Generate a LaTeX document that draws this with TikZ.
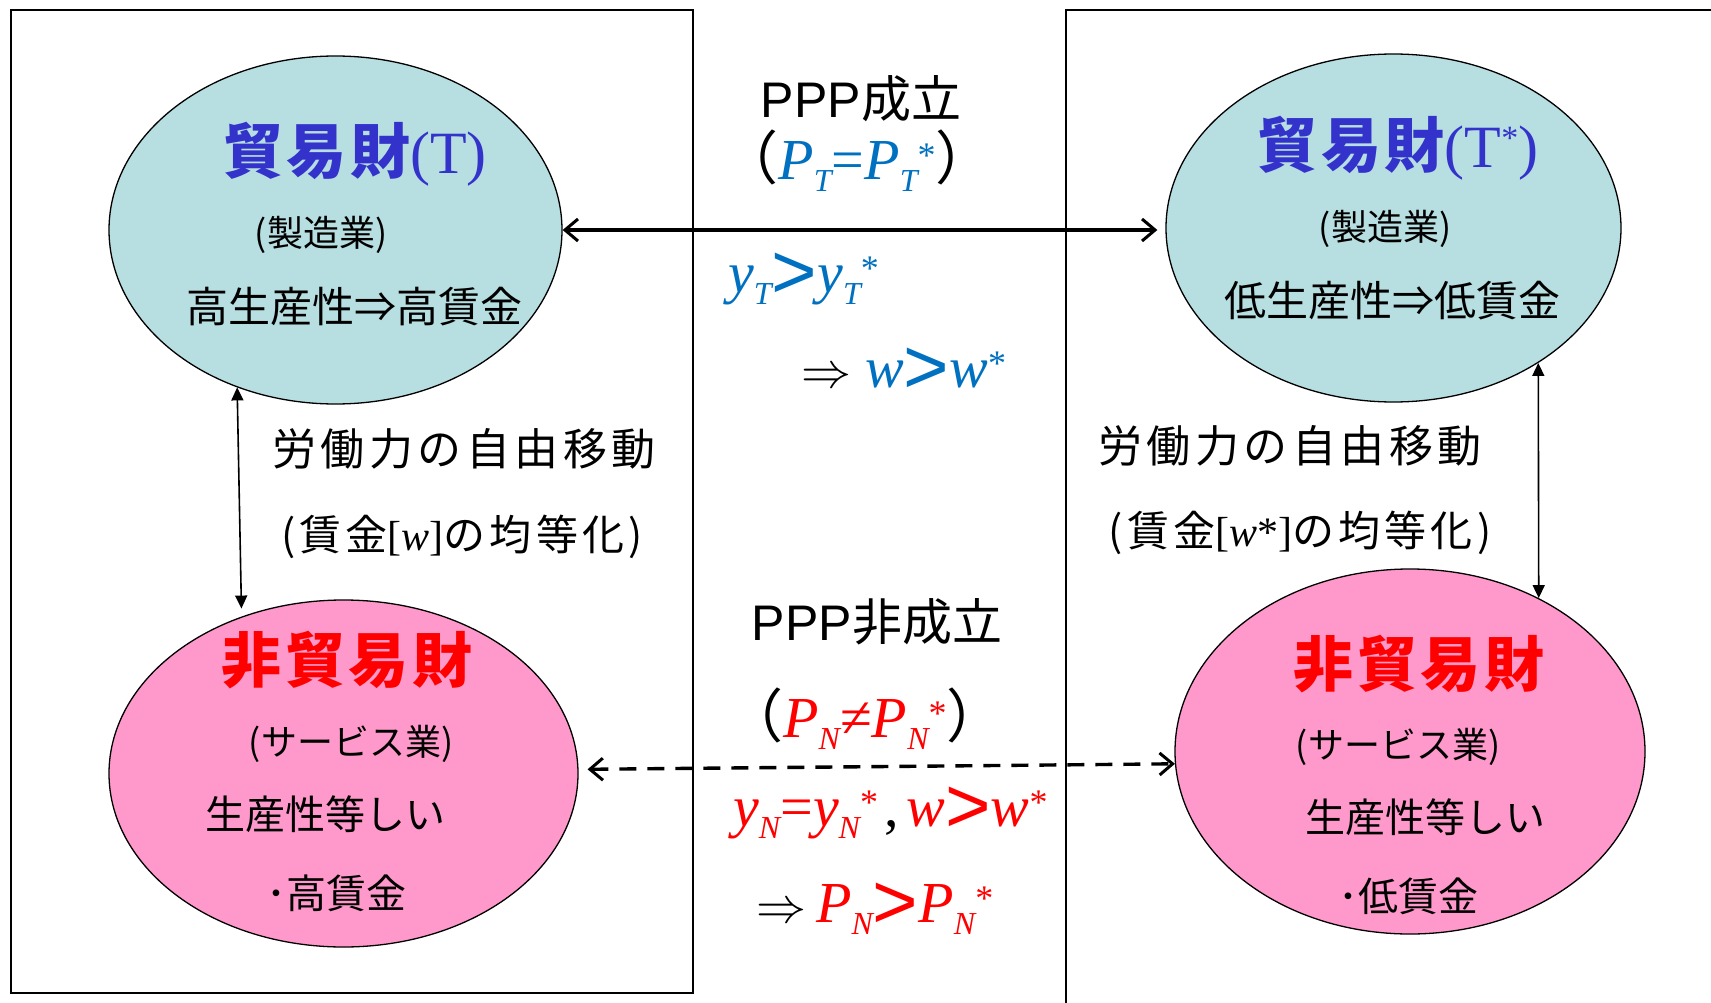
\documentclass[tikz,border=0pt]{standalone}
\usepackage{fontspec}
\setmainfont{Liberation Serif}
\newfontfamily\jp{Noto Sans CJK JP}
\newfontfamily\jpa[LetterSpace=10]{Noto Sans CJK JP}
\newfontfamily\jpt[LetterSpace=6]{Noto Sans CJK JP}
\newfontfamily\ars{Liberation Sans}
\usetikzlibrary{shapes.geometric,arrows.meta}
\definecolor{tblue}{HTML}{3333CC}
\definecolor{mblue}{HTML}{0070C0}
\definecolor{nred}{HTML}{FF0000}
\definecolor{tfill}{HTML}{B7DEE0}
\definecolor{nfill}{HTML}{FF99CC}
\newcommand\fs[1]{\fontsize{#1}{#1}\selectfont}
\newcommand\sbs[1]{\raisebox{-12pt}{\fs{32}\itshape #1}}
\newcommand\sps[1]{\raisebox{12pt}{\fs{36}\upshape #1}}
\newcommand\ggt{\raisebox{-6pt}{\ars\upshape\fs{78}>}}
\newcommand\myimpl{\scalebox{5}{\normalsize$\Rightarrow$}}
\tikzset{
  ell/.style={ellipse, draw, line width=1.3pt, inner sep=0pt},
  frame/.style={line width=2pt},
  harr/.style={line width=3.4pt, {Straight Barb[length=13pt,width=22pt,line width=3pt]}-{Straight Barb[length=13pt,width=22pt,line width=3pt]}},
  varr/.style={line width=1.6pt, {Triangle[length=13pt,width=12pt]}-{Triangle[length=13pt,width=12pt]}},
  txt/.style={inner sep=0pt},
}
\begin{document}
\begin{tikzpicture}[x=1pt,y=-1pt]
\useasboundingbox (0,0) rectangle (1711,1003);
% frames
\draw[frame] (11,10) rectangle (693,993);
\draw[frame] (1066,1003) -- (1066,10) -- (1711,10);
% ellipses
\node[ell, fill=tfill, minimum width=453pt, minimum height=348pt] (tl) at (335.5,230) {};
\node[ell, fill=tfill, minimum width=455pt, minimum height=348pt] (tr) at (1393.5,228) {};
\node[ell, fill=nfill, minimum width=469pt, minimum height=347pt] (bl) at (343.5,773.5) {};
\node[ell, fill=nfill, minimum width=470pt, minimum height=365pt] (br) at (1410,751.5) {};
% connectors
\draw[harr, shorten >=8pt] (tl.east) -- (tl.east -| tr.west);
\draw[harr, dash pattern=on 17pt off 11pt, shorten <=9pt] (bl.1.6) -- (br.183.8);
\draw[varr, shorten >=8pt] (tl.238.6) -- (bl.123.9);
\draw[varr] (tr.-43.6) -- (br.50.3);
% left texts
\node[txt, tblue] (t1) at (355,154) {\fs{60}{\jpt\bfseries 貿易財}\rmfamily(T)};
\node[txt] (t2) at (321,235) {\jp\fs{36}(製造業)};
\node[txt] (t3) at (354,307) {\jp\fs{42}高生産性⇒高賃金};
\node[txt] (t4) at (464,449) {\jpa\fs{44}労働力の自由移動};
\node[txt] (t5) at (462,537) {\jpa\fs{42}(賃金{\rmfamily[\itshape w\upshape]}の均等化)};
\node[txt, nred] (t6) at (347,660) {\fs{60}\jpt\bfseries 非貿易財};
\node[txt] (t7) at (351,744) {\jp\fs{36}(サービス業)};
\node[txt] (t8) at (325,814) {\jp\fs{40}生産性等しい};
\node[txt] (t9) at (336,893) {\jp\fs{40}･高賃金};
% right texts
\node[txt, tblue] (u1) at (1398,148) {\fs{60}{\jpt\bfseries 貿易財}\rmfamily(T\raisebox{18pt}{\fs{34}*})};
\node[txt] (u2) at (1385,229) {\jp\fs{36}(製造業)};
\node[txt] (u3) at (1392,301) {\jp\fs{42}低生産性⇒低賃金};
\node[txt] (u4) at (1290,446) {\jpa\fs{44}労働力の自由移動};
\node[txt] (u5) at (1300,533) {\jpa\fs{42}(賃金{\rmfamily[\itshape w\upshape*]}の均等化)};
\node[txt, nred] (u6) at (1419,664) {\fs{60}\jpt\bfseries 非貿易財};
\node[txt] (u7) at (1398,747) {\jp\fs{36}(サービス業)};
\node[txt] (u8) at (1425,817) {\jp\fs{40}生産性等しい};
\node[txt] (u9) at (1408,896) {\jp\fs{40}･低賃金};
% middle texts
\node[txt] (m1) at (861,99) {\fs{50}{\ars PPP}{\jp 成立}};
\node[txt, anchor=base] (m2) at (857,180) {\fs{58}{\jp （}{\color{mblue}\itshape P\sbs{T}\upshape=\itshape P\sbs{T}\sps{*}}{\jp ）}};
\node[txt, anchor=base west] (m3) at (728,292) {\fs{58}\color{mblue}\itshape y\sbs{T}\ggt\itshape y\sbs{T}\sps{*}};
\node[txt, anchor=base west] (m4) at (801,387) {\fs{58}\myimpl\hspace{14pt}{\color{mblue}\itshape w\ggt\itshape w\sps{*}}};
\node[txt] (m5) at (877,622) {\fs{50}{\ars PPP}{\jp 非成立}};
\node[txt, anchor=base] (m6) at (865,737) {\fs{58}{\jp （}{\color{nred}\itshape P\sbs{N}\upshape≠\itshape P\sbs{N}\sps{*}}{\jp ）}};
\node[txt, anchor=base west] (m7) at (733,826) {\fs{58}{\color{nred}\itshape y\sbs{N}\upshape=\itshape y\sbs{N}\sps{*}}\upshape\hspace{6pt},\hspace{8pt}{\color{nred}\itshape w\ggt\itshape w\sps{*}}};
\node[txt, anchor=base west] (m8) at (756,922) {\fs{58}\myimpl\hspace{10pt}{\color{nred}\itshape P\sbs{N}\ggt\itshape P\sbs{N}\sps{*}}};
\end{tikzpicture}
\end{document}
